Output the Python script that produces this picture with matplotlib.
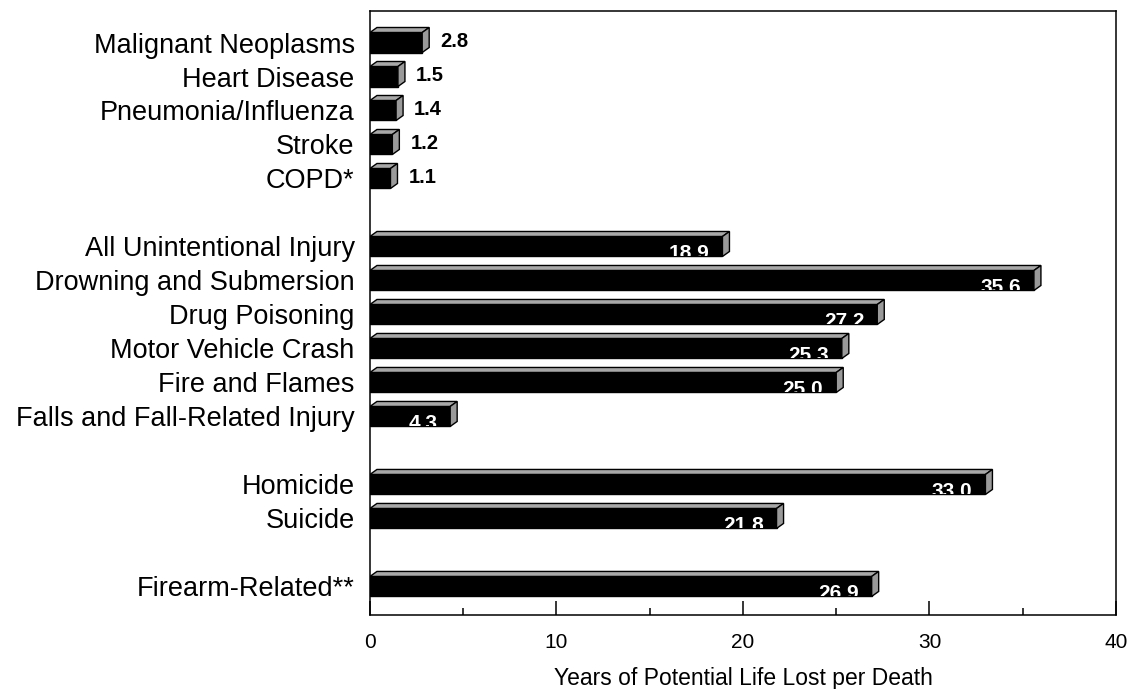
import matplotlib.pyplot as plt
from matplotlib.patches import Polygon, Rectangle

plt.rcParams['font.family'] = ['Liberation Sans', 'DejaVu Sans']

# Years of potential life lost per death, by cause
causes = ['Malignant Neoplasms', 'Heart Disease', 'Pneumonia/Influenza', 'Stroke', 'COPD*',
          'All Unintentional Injury', 'Drowning and Submersion', 'Drug Poisoning',
          'Motor Vehicle Crash', 'Fire and Flames', 'Falls and Fall-Related Injury',
          'Homicide', 'Suicide', 'Firearm-Related**']
ypll = [2.8, 1.5, 1.4, 1.2, 1.1, 18.9, 35.6, 27.2, 25.3, 25.0, 4.3, 33.0, 21.8, 26.9]
# row slots, with blank rows between the groups
slots = [0, 1, 2, 3, 4, 6, 7, 8, 9, 10, 11, 13, 14, 16]

W, H = 1130, 689
fig = plt.figure(figsize=(W / 100, H / 100), dpi=100)
ax_l, ax_b, ax_w, ax_h = 0.3274, 0.1074, 0.6602, 0.8766
ax = fig.add_axes([ax_l, ax_b, ax_w, ax_h])
ylo, yhi = -0.926, 16.84
ax.set_xlim(0, 40)
ax.set_ylim(yhi, ylo)

# pixel -> data conversions for the fake 3d depth
px_x = 40 / (ax_w * W)
px_y = (yhi - ylo) / (ax_h * H)
dx = 7 * px_x
dy = 5 * px_y
bar_h = 20 * px_y
gray = '#a8a8a8'

for s, v in zip(slots, ypll):
    y0 = s - bar_h / 2
    y1 = s + bar_h / 2
    face = Rectangle((0, y0), v, bar_h, fc='black', ec='black', lw=1, zorder=3)
    ax.add_patch(face)
    top = Polygon([(0, y0), (dx, y0 - dy), (v + dx, y0 - dy), (v, y0)],
                  closed=True, fc=gray, ec='black', lw=1, zorder=3)
    side = Polygon([(v, y0), (v + dx, y0 - dy), (v + dx, y1 - dy), (v, y1)],
                   closed=True, fc='#9a9a9a', ec='black', lw=1, zorder=3)
    ax.add_patch(top)
    ax.add_patch(side)
    if v < 4:
        ax.annotate(f'{v:.1f}', xy=(v + dx, s), xytext=(11, 1), textcoords='offset pixels',
                    ha='left', va='center', fontsize=14.5, fontweight='bold', color='black')
    else:
        t = ax.annotate(f'{v:.1f}', xy=(v, y1), xytext=(-13, -3), textcoords='offset pixels',
                        ha='right', va='baseline', fontsize=15, fontweight='bold',
                        color='white', zorder=4)
        t.set_clip_path(face)

ax.set_yticks(slots)
ax.set_yticklabels(causes, fontsize=19.5)
ax.tick_params(axis='y', length=0, pad=11)

ax.set_xticks([0, 10, 20, 30, 40])
ax.set_xticks([5, 15, 25, 35], minor=True)
ax.tick_params(axis='x', which='major', direction='in', length=10, width=1.1,
               labelsize=15, pad=13)
ax.tick_params(axis='x', which='minor', direction='in', length=5, width=1.1)
ax.set_xlabel('Years of Potential Life Lost per Death', fontsize=16.5, labelpad=11)

for sp in ax.spines.values():
    sp.set_linewidth(1.1)

fig.savefig('out.png', dpi=100)
